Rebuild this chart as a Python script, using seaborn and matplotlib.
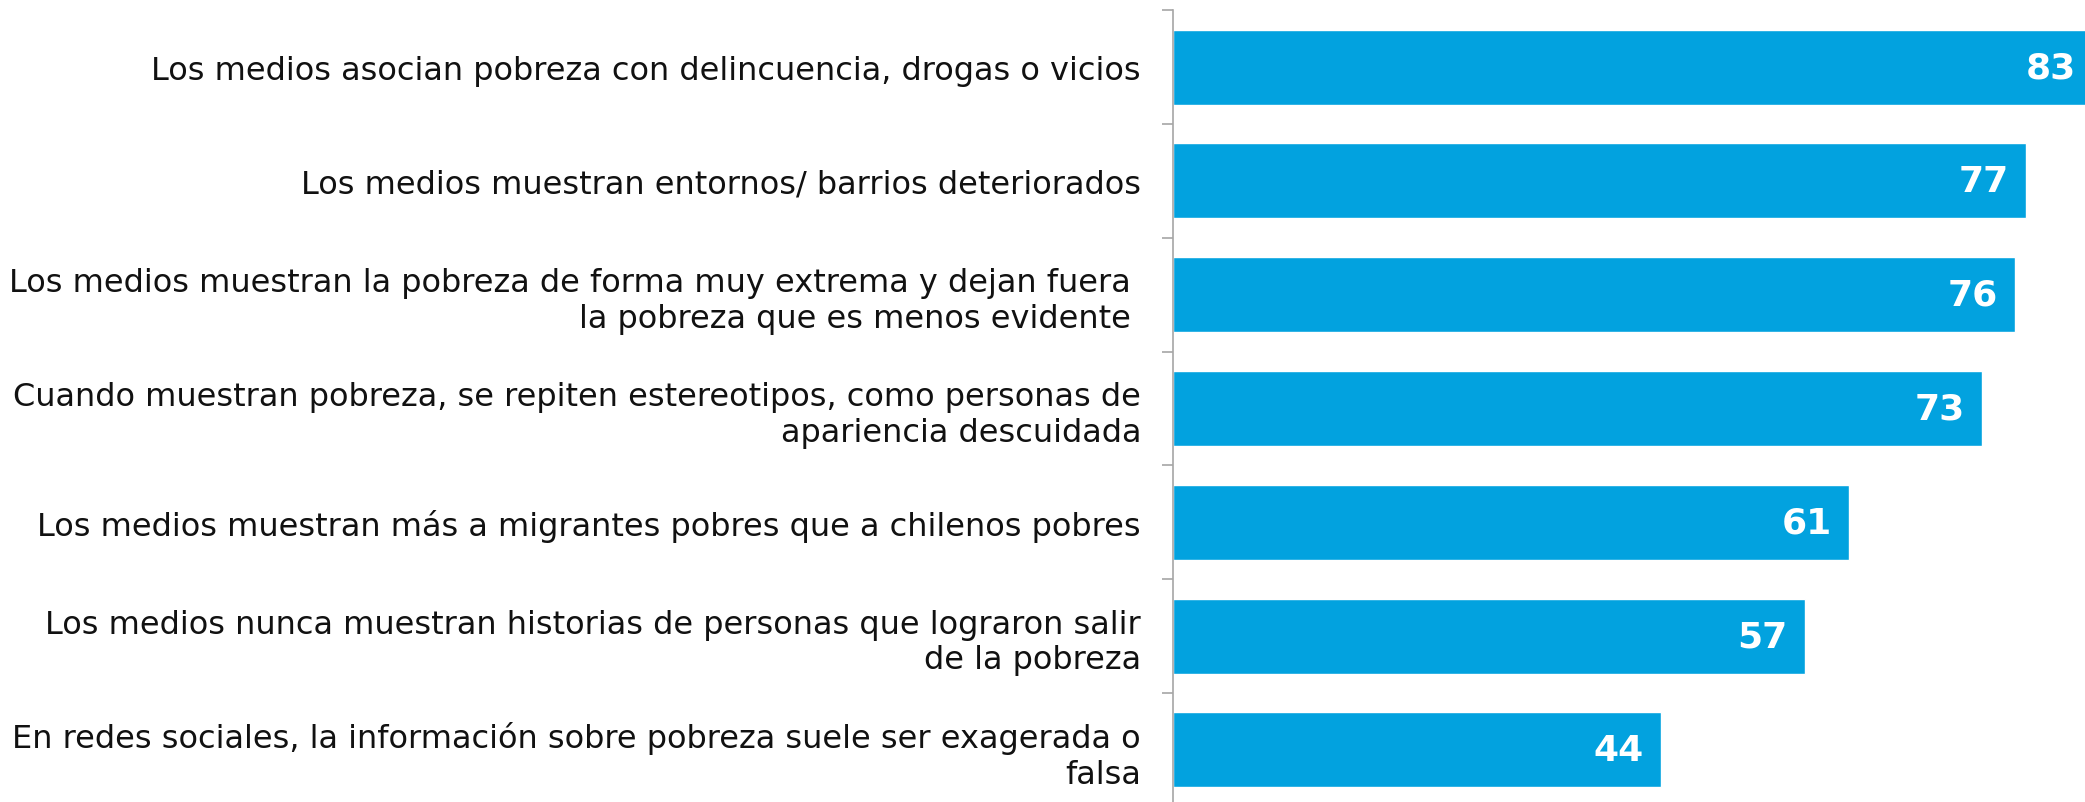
import numpy as np
import pandas as pd
import matplotlib
matplotlib.use("Agg")
import matplotlib.pyplot as plt
import seaborn as sns

categories = [
    "Los medios asocian pobreza con delincuencia, drogas o vicios",
    "Los medios muestran entornos/ barrios deteriorados",
    "Los medios muestran la pobreza de forma muy extrema y dejan fuera \nla pobreza que es menos evidente ",
    "Cuando muestran pobreza, se repiten estereotipos, como personas de\napariencia descuidada",
    "Los medios muestran más a migrantes pobres que a chilenos pobres",
    "Los medios nunca muestran historias de personas que lograron salir\nde la pobreza",
    "En redes sociales, la información sobre pobreza suele ser exagerada o\nfalsa",
]
values = [83, 77, 76, 73, 61, 57, 44]

BAR_COLOR = "#02A2DF"
AXIS_COLOR = "#A6A6A6"

sns.set_style("white")
plt.rcParams["font.family"] = ["DejaVu Sans"]

df = pd.DataFrame({"item": categories, "pct": values})

fig = plt.figure(figsize=(20.85, 8.03), dpi=100)
ax = fig.add_axes([1173 / 2085, -0.006, 912 / 2085, 0.992])

sns.barplot(data=df, x="pct", y="item", orient="h", color=BAR_COLOR,
            width=0.66, saturation=1, ax=ax)

ax.set_xlim(0, 82.3)
ax.set_ylim(len(categories) - 0.5, -0.5)

for i, v in enumerate(values):
    ax.annotate(str(v), xy=(v, i), xytext=(-17, 0), textcoords="offset pixels",
                ha="right", va="center", color="white", fontsize=26,
                fontweight="bold", annotation_clip=False)

for side in ["top", "right", "bottom"]:
    ax.spines[side].set_visible(False)
ax.spines["left"].set_color(AXIS_COLOR)
ax.spines["left"].set_linewidth(1.2)

ax.set_xticks([])
ax.set_xlabel("")
ax.set_ylabel("")
ax.tick_params(axis="y", which="major", left=False, length=0, pad=23,
               labelsize=23, labelcolor="#111111")
for lbl in ax.get_yticklabels():
    lbl.set_linespacing(1.2)
ax.set_yticks(np.arange(-0.5, len(categories) + 0.5, 1.0), minor=True)
ax.tick_params(axis="y", which="minor", left=True, length=8, width=1.2,
               color=AXIS_COLOR, direction="out")

fig.savefig("out.png", dpi=100)
